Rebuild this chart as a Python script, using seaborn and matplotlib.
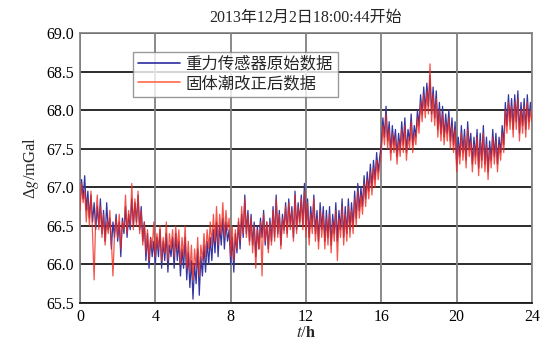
import numpy as np
import pandas as pd
import matplotlib
matplotlib.use("Agg")
import matplotlib.pyplot as plt
import seaborn as sns

title = "2013年12月2日18:00:44开始"
series_names = ["重力传感器原始数据", "固体潮改正后数据"]
x_ticks = [0, 4, 8, 12, 16, 20, 24]
y_ticks = [65.5, 66.0, 66.5, 67.0, 67.5, 68.0, 68.5, 69.0]

# time in hours, 5-minute steps
t_hours = [i / 12 for i in range(289)]

raw_blue = [
    66.75, 67.10, 66.85, 67.15, 66.70, 66.95, 66.60, 66.90, 66.55, 66.80, 66.45, 66.75,
    66.50, 66.85, 66.40, 66.70, 66.30, 66.80, 66.45, 66.60, 66.20, 66.55, 66.35, 66.65,
    66.30, 66.55, 66.10, 66.60, 66.40, 66.75, 66.35, 66.65, 66.45, 66.85, 66.50, 66.80,
    66.55, 66.90, 66.45, 66.75, 66.30, 66.55, 66.05, 66.40, 65.95, 66.35, 66.10, 66.30,
    66.00, 66.35, 66.10, 66.45, 65.95, 66.30, 66.05, 66.40, 65.90, 66.25, 66.10, 66.35,
    65.95, 66.40, 66.05, 66.30, 65.85, 66.20, 65.95, 66.35, 65.80, 66.15, 65.70, 66.05,
    65.55, 66.00, 65.75, 66.20, 65.60, 66.10, 65.85, 66.25, 65.90, 66.30, 66.00, 66.35,
    66.05, 66.45, 66.15, 66.55, 66.10, 66.50, 66.25, 66.60, 66.20, 66.55, 66.30, 66.45,
    66.00, 66.35, 65.90, 66.40, 66.15, 66.55, 66.20, 66.65, 66.35, 66.90, 66.40, 66.70,
    66.30, 66.65, 66.25, 66.55, 66.10, 66.50, 66.20, 66.60, 66.35, 66.70, 66.25, 66.55,
    66.20, 66.60, 66.30, 66.75, 66.35, 66.90, 66.40, 66.70, 66.25, 66.65, 66.45, 66.80,
    66.40, 66.85, 66.50, 66.75, 66.35, 66.95, 66.45, 66.80, 66.55, 66.90, 66.50, 67.05,
    66.45, 66.85, 66.35, 66.75, 66.50, 66.90, 66.40, 66.70, 66.30, 66.80, 66.45, 66.75,
    66.30, 66.70, 66.35, 66.75, 66.25, 66.65, 66.40, 66.80, 66.30, 66.70, 66.45, 66.85,
    66.35, 66.75, 66.40, 66.85, 66.45, 66.80, 66.50, 66.95, 66.60, 67.05, 66.70, 67.00,
    66.75, 67.15, 66.85, 67.20, 66.95, 67.30, 67.00, 67.35, 67.10, 67.45, 67.20, 67.40,
    67.55, 67.90, 67.65, 68.05, 67.60, 67.85, 67.45, 67.80, 67.55, 67.75, 67.40, 67.70,
    67.50, 67.85, 67.55, 67.90, 67.45, 67.75, 67.60, 67.95, 67.55, 67.80, 67.65, 68.00,
    67.80, 68.20, 67.95, 68.30, 68.00, 68.35, 68.05, 68.45, 67.95, 68.30, 67.90, 68.25,
    67.75, 68.10, 67.70, 68.05, 67.65, 67.95, 67.70, 68.00, 67.60, 67.90, 67.55, 67.85,
    67.30, 67.65, 67.40, 67.80, 67.45, 67.75, 67.35, 67.85, 67.50, 67.70, 67.30, 67.65,
    67.40, 67.75, 67.25, 67.70, 67.35, 67.80, 67.30, 67.65, 67.20, 67.60, 67.35, 67.75,
    67.40, 67.70, 67.30, 67.65, 67.45, 67.80, 67.55, 68.10, 67.80, 68.20, 67.85, 68.15,
    67.75, 68.20, 67.85, 68.25, 67.70, 68.10, 67.80, 68.15, 67.75, 68.20, 67.85, 68.10,
    67.95,
]

corrected_red = [
    66.70, 67.05, 66.80, 66.95, 66.55, 66.85, 66.50, 66.95, 66.40, 65.80, 66.60, 66.90,
    66.45, 66.75, 66.35, 66.65, 66.25, 66.55, 66.40, 66.70, 66.30, 65.85, 66.40, 66.60,
    66.35, 66.65, 66.20, 66.55, 66.45, 66.90, 66.40, 66.70, 66.50, 67.05, 66.45, 66.85,
    66.50, 66.95, 66.40, 66.70, 66.25, 66.55, 66.15, 66.45, 66.05, 66.35, 66.20, 66.55,
    66.10, 66.40, 66.20, 66.50, 66.05, 66.35, 66.15, 66.55, 66.05, 66.40, 66.20, 66.45,
    66.10, 66.50, 66.20, 66.45, 66.00, 66.35, 66.10, 66.50, 65.95, 66.30, 65.90, 66.25,
    65.80, 66.20, 65.95, 66.35, 65.85, 66.25, 66.05, 66.40, 66.10, 66.45, 66.20, 66.55,
    66.25, 66.65, 66.30, 66.75, 66.25, 66.65, 66.40, 66.80, 66.35, 66.70, 66.45, 66.60,
    66.10, 66.50, 66.05, 66.45, 66.20, 66.60, 66.30, 66.75, 66.40, 66.85, 66.35, 66.65,
    66.25, 66.60, 66.15, 66.50, 65.95, 66.45, 66.20, 66.55, 65.85, 66.65, 66.30, 66.55,
    66.15, 66.55, 66.25, 66.70, 66.30, 66.85, 66.35, 66.65, 66.20, 66.60, 66.40, 66.75,
    66.35, 66.80, 66.45, 66.70, 66.30, 66.90, 66.40, 66.75, 66.50, 66.85, 66.45, 66.95,
    66.35, 66.80, 66.25, 66.65, 66.40, 66.85, 66.30, 66.60, 66.20, 66.70, 66.35, 66.65,
    66.20, 66.60, 66.25, 66.65, 66.15, 66.55, 66.30, 66.70, 66.05, 66.60, 66.35, 66.75,
    66.25, 66.65, 66.30, 66.75, 66.35, 66.70, 66.40, 66.85, 66.50, 66.95, 66.60, 66.90,
    66.65, 67.05, 66.75, 67.10, 66.85, 67.20, 66.90, 67.25, 67.00, 67.35, 67.10, 67.30,
    67.45, 67.80, 67.55, 67.95, 67.50, 67.75, 67.35, 67.70, 67.45, 67.65, 67.30, 67.60,
    67.40, 67.75, 67.45, 67.80, 67.35, 67.65, 67.50, 67.85, 67.45, 67.70, 67.55, 67.90,
    67.70, 68.10, 67.85, 68.20, 67.90, 68.25, 67.95, 68.60, 67.85, 68.20, 67.80, 68.15,
    67.65, 68.00, 67.60, 67.95, 67.55, 67.85, 67.60, 67.90, 67.50, 67.80, 67.45, 67.75,
    67.20, 67.55, 67.30, 67.70, 67.35, 67.65, 67.25, 67.75, 67.40, 67.60, 67.20, 67.55,
    67.30, 67.65, 67.15, 67.60, 67.25, 67.70, 67.20, 67.55, 67.10, 67.50, 67.25, 67.65,
    67.30, 67.60, 67.20, 67.55, 67.35, 67.70, 67.45, 68.00, 67.70, 68.10, 67.75, 68.05,
    67.65, 68.10, 67.75, 68.15, 67.60, 68.00, 67.70, 68.05, 67.65, 68.10, 67.75, 68.00,
    67.85,
]

sns.set_style("white")
plt.rcParams["font.family"] = ["Liberation Serif", "Noto Sans CJK SC", "DejaVu Sans"]
plt.rcParams["mathtext.fontset"] = "stix"
plt.rcParams["axes.unicode_minus"] = False

fig = plt.figure(figsize=(5.54, 3.52), dpi=100)
ax = fig.add_axes([0.1444, 0.1392, 0.8159, 0.7671])

df_b = pd.DataFrame({"t": t_hours, "v": raw_blue})
df_r = pd.DataFrame({"t": t_hours, "v": corrected_red})

# grid
for y in y_ticks:
    ax.axhline(y, color="#1a1a1a", lw=1.3, zorder=0)
for x in x_ticks:
    ax.axvline(x, color="#808080", lw=1.3, zorder=0)

sns.lineplot(data=df_b, x="t", y="v", ax=ax, color="#3535a0", lw=0.9,
             label=series_names[0], zorder=2)
sns.lineplot(data=df_r, x="t", y="v", ax=ax, color="#f02a1e", lw=0.9,
             label=series_names[1], zorder=3, alpha=0.8)

ax.set_xlim(0, 24)
ax.set_ylim(65.5, 69.0)
ax.set_xticks(x_ticks)
ax.set_yticks(y_ticks)
ax.set_yticklabels([f"{v:.1f}" for v in y_ticks])
ax.tick_params(direction="in", length=2, labelsize=11.5, pad=4, colors="black")

for s in ["top", "right", "left"]:
    ax.spines[s].set_color("#808080")
    ax.spines[s].set_linewidth(1.2)
ax.spines["bottom"].set_color("#1a1a1a")
ax.spines["bottom"].set_linewidth(1.3)

ax.set_xlabel(r"$t$/$\mathbf{h}$", fontsize=12, labelpad=0)
ax.set_ylabel(r"Δ$g$/mGal", fontsize=12, labelpad=4)
ax.set_title(title, fontsize=11.5, pad=8)

leg = ax.legend(loc="upper left", bbox_to_anchor=(0.117, 0.93), fontsize=11.8,
                frameon=True, fancybox=False, borderpad=0.3, handlelength=2.6,
                handletextpad=0.3, labelspacing=0.2, borderaxespad=0)
leg.get_frame().set_edgecolor("#808080")
leg.get_frame().set_linewidth(1.0)
leg.get_lines()[1].set_color("#ff6a4a")
leg.get_lines()[0].set_color("#2c2ca0")
for l in leg.get_lines():
    l.set_linewidth(1.2)
    l.set_alpha(1)

fig.savefig("out.png", dpi=100)
